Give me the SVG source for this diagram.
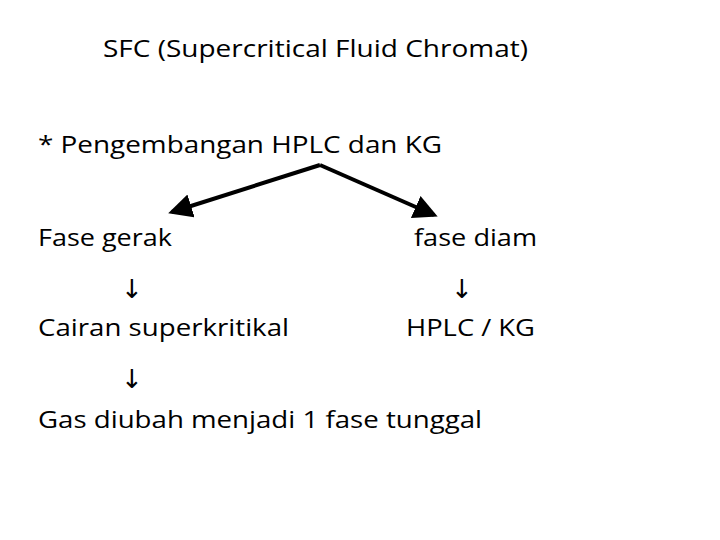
<svg xmlns="http://www.w3.org/2000/svg" width="720" height="540" viewBox="0 0 720 540">
<style>
text{font-family:"Open Sans","Liberation Sans",sans-serif;font-size:24px;fill:#000}
text.ar{font-family:"DejaVu Sans",sans-serif;font-size:26px}
.c{stroke:#000;stroke-width:4;fill:none}
</style>
<defs><marker id="a" markerWidth="6" markerHeight="6" refX="5" refY="3" orient="auto" markerUnits="strokeWidth"><path d="M0,0L6,3L0,6z" fill="#000"/></marker></defs>
<rect width="720" height="540" fill="#fff"/>
<g id="title"><text x="103" y="57" textLength="425" lengthAdjust="spacingAndGlyphs">SFC (Supercritical Fluid Chromat)</text></g>
<g id="pengembangan"><text x="38" y="153" textLength="404" lengthAdjust="spacingAndGlyphs">*  Pengembangan HPLC dan KG</text></g>
<g id="connectors">
<line class="c" x1="320" y1="165" x2="172" y2="212" marker-end="url(#a)"/>
<line class="c" x1="320" y1="165" x2="434" y2="215" marker-end="url(#a)"/>
</g>
<g id="fasegerak"><text x="38" y="246" textLength="134" lengthAdjust="spacingAndGlyphs">Fase gerak</text></g>
<g id="fasediam"><text x="414" y="246" textLength="123" lengthAdjust="spacingAndGlyphs">fase diam</text></g>
<g id="arr1"><text class="ar" x="121" y="298">↓</text></g>
<g id="arr2"><text class="ar" x="451" y="298">↓</text></g>
<g id="cairan"><text x="38" y="336" textLength="251" lengthAdjust="spacingAndGlyphs">Cairan superkritikal</text></g>
<g id="hplc"><text x="406" y="336" textLength="129" lengthAdjust="spacingAndGlyphs">HPLC / KG</text></g>
<g id="arr3"><text class="ar" x="121" y="388">↓</text></g>
<g id="gas"><text x="38" y="428" textLength="444" lengthAdjust="spacingAndGlyphs">Gas diubah menjadi 1 fase tunggal</text></g>
</svg>
